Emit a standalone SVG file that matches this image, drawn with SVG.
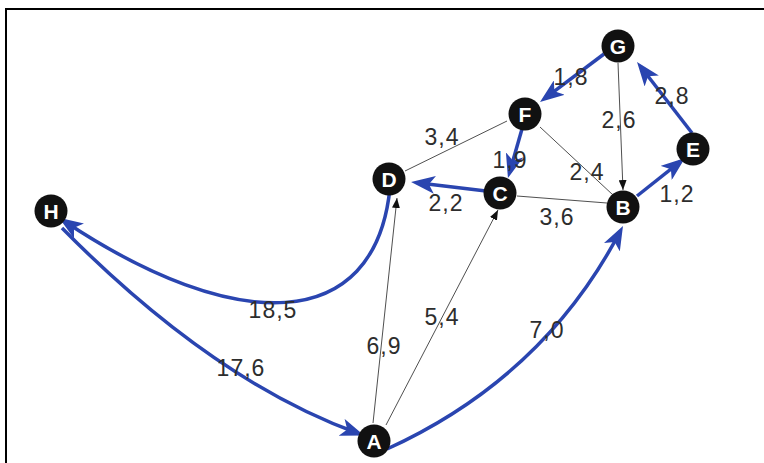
<svg xmlns="http://www.w3.org/2000/svg" width="764" height="463" viewBox="0 0 764 463">
<style>
.frame{fill:#fff;stroke:#000;stroke-width:2}
.thin{fill:none;stroke:#222;stroke-width:0.8}
.blue{fill:none;stroke:#2a45b0;stroke-width:3.5}
.nd{fill:#111}
.nl{font-family:"Liberation Sans",Arial,sans-serif;font-weight:bold;font-size:21px;fill:#fff;text-anchor:middle}
.lb{font-family:"Liberation Sans",Arial,sans-serif;font-size:23px;fill:#2d2d2d;text-anchor:middle;letter-spacing:1px}
</style>
<defs>
<marker id="ab" viewBox="0 0 24 18" refX="18" refY="9" markerWidth="24" markerHeight="18" markerUnits="userSpaceOnUse" orient="auto">
<path d="M0,0 L24,9 L0,18 L6,9 z" fill="#2a45b0"/>
</marker>
<marker id="ak" viewBox="0 0 10 8" refX="10" refY="4" markerWidth="10" markerHeight="8" markerUnits="userSpaceOnUse" orient="auto">
<path d="M0,0 L10,4 L0,8 z" fill="#111"/>
</marker>
</defs>
<rect class="frame" x="6" y="9" width="780" height="480"/>
<g id="connectors">
<line class="thin" x1="507" y1="121" x2="405" y2="171"/>
<line class="thin" x1="540" y1="127" x2="613" y2="195"/>
<line class="thin" x1="517" y1="196" x2="607" y2="203"/>
<line class="thin" x1="373" y1="423" x2="397" y2="198" marker-end="url(#ak)"/>
<line class="thin" x1="386" y1="425" x2="498" y2="210" marker-end="url(#ak)"/>
<line class="thin" x1="618" y1="63" x2="623" y2="190" marker-end="url(#ak)"/>
<line class="blue" x1="604" y1="54" x2="544.8" y2="98.4" marker-end="url(#ab)"/>
<line class="blue" x1="692" y1="133" x2="640.7" y2="66.7" marker-end="url(#ab)"/>
<line class="blue" x1="637" y1="196" x2="680.3" y2="161.7" marker-end="url(#ab)"/>
<line class="blue" x1="522" y1="129" x2="509.6" y2="172.2" marker-end="url(#ab)"/>
<line class="blue" x1="486" y1="191" x2="417" y2="182.7" marker-end="url(#ab)"/>
<path class="blue" d="M390,188 C375,335 235,335 64,221" marker-end="url(#ab)"/>
<path class="blue" d="M62,228 Q213,381 358.5,433.5" marker-end="url(#ab)"/>
<path class="blue" d="M387,449 Q543.6,377.6 620.2,231.3" marker-end="url(#ab)"/>
</g>
<g id="labels">
<text class="lb" x="571" y="85">1,8</text>
<text class="lb" x="672" y="104">2,8</text>
<text class="lb" x="619" y="128">2,6</text>
<text class="lb" x="442" y="145">3,4</text>
<text class="lb" x="510" y="168">1,9</text>
<text class="lb" x="587" y="180">2,4</text>
<text class="lb" x="677" y="202">1,2</text>
<text class="lb" x="446" y="211">2,2</text>
<text class="lb" x="557" y="225">3,6</text>
<text class="lb" x="273" y="318">18,5</text>
<text class="lb" x="241" y="376">17,6</text>
<text class="lb" x="384" y="354">6,9</text>
<text class="lb" x="442" y="325">5,4</text>
<text class="lb" x="547" y="338">7,0</text>
</g>
<g id="node-G"><circle class="nd" cx="618" cy="46" r="16.5"/><text class="nl" x="618" y="53.5">G</text></g>
<g id="node-F"><circle class="nd" cx="525" cy="114" r="16.5"/><text class="nl" x="525" y="121.5">F</text></g>
<g id="node-E"><circle class="nd" cx="693" cy="149" r="16.5"/><text class="nl" x="693" y="156.5">E</text></g>
<g id="node-D"><circle class="nd" cx="389" cy="179" r="16.5"/><text class="nl" x="389" y="186.5">D</text></g>
<g id="node-C"><circle class="nd" cx="500" cy="193" r="16.5"/><text class="nl" x="500" y="200.5">C</text></g>
<g id="node-B"><circle class="nd" cx="623" cy="207" r="16.5"/><text class="nl" x="623" y="214.5">B</text></g>
<g id="node-H"><circle class="nd" cx="51" cy="211" r="16.5"/><text class="nl" x="51" y="218.5">H</text></g>
<g id="node-A"><circle class="nd" cx="374" cy="441" r="16.5"/><text class="nl" x="374" y="448.5">A</text></g>
</svg>
